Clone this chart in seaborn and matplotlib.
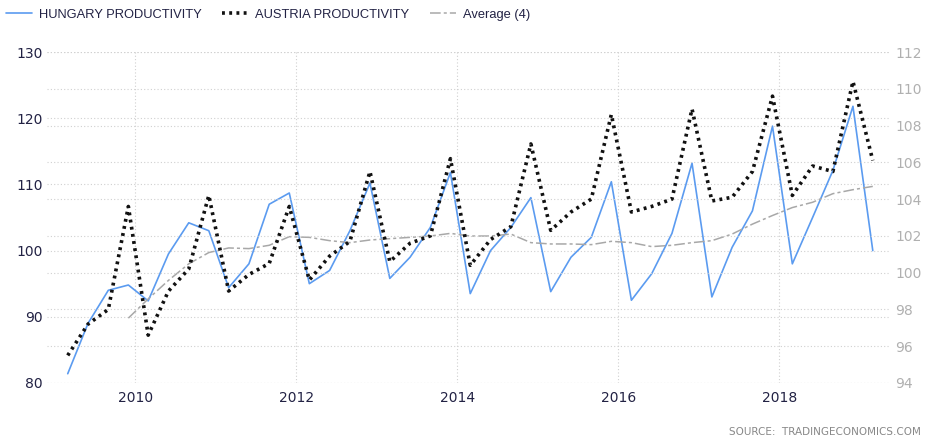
import pandas as pd
import numpy as np
import matplotlib
matplotlib.use('Agg')
import matplotlib.pyplot as plt
import seaborn as sns

# quarterly values, 2009Q1 .. 2019Q1
hungary = [81.4, 89.0, 94.0, 94.8, 92.4, 99.5, 104.2, 103.0, 94.4, 98.0, 107.0, 108.7,
           95.0, 97.0, 103.0, 110.2, 95.8, 99.0, 103.5, 111.8, 93.5, 100.0, 103.5, 108.0,
           93.8, 99.0, 102.0, 110.4, 92.5, 96.5, 102.6, 113.2, 93.0, 100.5, 106.0, 118.8,
           98.0, 105.0, 112.1, 121.8, 100.0]
austria = [95.5, 97.2, 98.0, 103.6, 96.6, 99.0, 100.2, 104.2, 99.0, 99.9, 100.5, 103.6,
           99.6, 100.9, 101.7, 105.5, 100.6, 101.6, 102.0, 106.2, 100.4, 101.8, 102.5, 107.0,
           102.3, 103.3, 104.0, 108.6, 103.3, 103.6, 104.0, 108.9, 103.9, 104.1, 105.5, 109.6,
           104.2, 105.8, 105.5, 110.4, 106.1]
# Average (4) starts at 2009Q4
average4 = [89.8, 92.7, 95.5, 98.0, 99.7, 100.4, 100.3, 100.8, 102.1, 102.0, 101.5, 101.2,
            101.6, 101.8, 102.0, 102.2, 102.6, 102.2, 102.2, 102.5, 101.2, 101.0, 101.0, 100.9,
            101.4, 101.2, 100.6, 100.8, 101.2, 101.5, 102.5, 104.0, 105.3, 106.5, 107.3, 108.6,
            109.2, 109.7]
year_ticks = ['2010', '2012', '2014', '2016', '2018']

dates = pd.date_range('2009-03-01', periods=len(hungary), freq='3MS')
df = pd.DataFrame({'date': dates, 'hungary': hungary, 'austria': austria})
df_avg = pd.DataFrame({'date': dates[len(dates) - len(average4):], 'avg': average4})

sns.set_style('white')
plt.rcParams['font.family'] = ['DejaVu Sans']

fig = plt.figure(figsize=(9.29, 4.46), dpi=100)
ax = fig.add_axes([0.0506, 0.1413, 0.9074, 0.7421])
ax2 = ax.twinx()

grid_kw = dict(color='#d0d0d0', linestyle=(0, (1, 2)), linewidth=0.8)

sns.lineplot(data=df, x='date', y='hungary', ax=ax, color='#5b9bf0', linewidth=1.2, legend=False)
sns.lineplot(data=df_avg, x='date', y='avg', ax=ax, color='#a8a8a8', linewidth=1.1, legend=False)
ax.lines[-1].set_dashes((7, 2, 2, 2))
sns.lineplot(data=df, x='date', y='austria', ax=ax2, color='#111111', linewidth=2.6, legend=False)
ax2.lines[-1].set_dashes((0.8, 1.2))

ax.set_ylim(80, 130)
ax2.set_ylim(94, 112)
ax.set_yticks(range(80, 131, 10))
ax2.set_yticks(range(94, 113, 2))
ax.set_xlim(pd.Timestamp('2008-11-27'), pd.Timestamp('2019-05-18'))
ax.set_xticks([pd.Timestamp(y + '-01-01') for y in year_ticks])
ax.set_xticklabels(year_ticks)

for a in (ax, ax2):
    for s in a.spines.values():
        s.set_visible(False)
    a.set_xlabel('')
    a.set_ylabel('')
    a.tick_params(length=0)
    a.yaxis.grid(True, **grid_kw)
ax.xaxis.grid(True, **grid_kw)
ax.set_axisbelow(True)
ax2.set_zorder(ax.get_zorder() + 1)
ax.patch.set_visible(False)

ax.tick_params(axis='y', labelsize=10, labelcolor='#222244', pad=3)
ax.tick_params(axis='x', labelsize=10, labelcolor='#222244', pad=6)
ax2.tick_params(axis='y', labelsize=10, labelcolor='#b0b0b0', pad=4)

h1 = ax.lines[0]
h2 = ax2.lines[0]
h3 = ax.lines[1]
fig.legend([h1, h2, h3], ['HUNGARY PRODUCTIVITY', 'AUSTRIA PRODUCTIVITY', 'Average (4)'],
           loc='upper left', bbox_to_anchor=(-0.006, 1.006), ncol=3, frameon=False,
           prop={'family': 'Liberation Sans', 'size': 9.3}, handlelength=2.0,
           handletextpad=0.55, columnspacing=1.6, labelcolor='#222244')

fig.text(0.991, 0.02, 'SOURCE:  TRADINGECONOMICS.COM', ha='right', va='bottom',
         fontsize=7.5, color='#888888', family='DejaVu Sans')

fig.savefig('out.png', dpi=100)
